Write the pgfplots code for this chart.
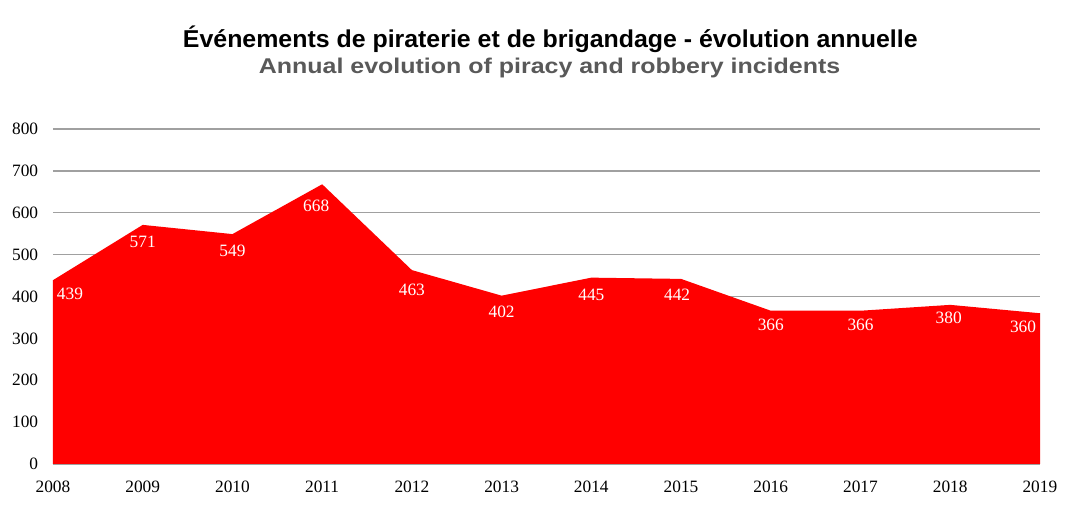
\documentclass[border=0pt]{standalone}
\usepackage{pgfplots}
\usepackage{pgfplotstable}
\pgfplotsset{compat=1.18}
\usepackage{fontspec}
\setmainfont{Liberation Serif}
\newfontfamily\titlefont{Liberation Sans}
\definecolor{gridgray}{HTML}{A0A0A0}
\definecolor{subgray}{HTML}{595959}
\pgfplotstableread{
year val dx dy
2008 439 12.75 -10.5
2009 571 0 -12.5
2010 549 0 -12.7
2011 668 -4.5 -16.3
2012 463 0 -15
2013 402 0 -11.9
2014 445 0 -12.75
2015 442 -3 -11.85
2016 366 0 -10.7
2017 366 0 -10.7
2018 380 -1.2 -9.8
2019 360 -12.75 -10.5
}\datatable
\begin{document}
\begin{tikzpicture}
\path[use as bounding box] (-39.75pt,-49.5pt) rectangle (767.25pt,348pt);
\begin{axis}[
  at={(0pt,0pt)}, anchor=origin,
  scale only axis,
  width=740.25pt, height=251.25pt,
  xmin=2008, xmax=2019, ymin=0, ymax=800,
  xtick={2008,...,2019}, ytick={0,100,...,800},
  /pgf/number format/assume math mode=true,
  x tick label style={/pgf/number format/1000 sep={}, yshift=-7pt},
  y tick label style={xshift=-5.5pt},
  tick label style={font=\fontsize{13}{15}\selectfont},
  ymajorgrids,
  major grid style={gridgray, line width=1pt},
  axis x line=bottom, axis y line=left,
  y axis line style={draw=none},
  x axis line style={gridgray, line width=1pt, -},
  major tick style={draw=none},
  clip=false,
]
\addplot[fill=red, draw=none] table[x=year, y=val] {\datatable} \closedcycle;
\addplot[draw=none, mark=none,
  nodes near coords,
  visualization depends on={\thisrow{dx} \as \dx},
  visualization depends on={\thisrow{dy} \as \dy},
  nodes near coords style={anchor=center, text=white, font=\fontsize{13}{15}\selectfont, xshift=\dx pt, yshift=\dy pt, inner sep=0pt},
] table[x=year, y=val] {\datatable};
\end{axis}
\node[anchor=base, inner sep=0pt, text=black] at (373pt,312.5pt) {\resizebox{551pt}{16.2pt}{\titlefont\bfseries Événements de piraterie et de brigandage - évolution annuelle}};
\node[anchor=base, inner sep=0pt, text=subgray] at (372.4pt,293pt) {\resizebox{436pt}{11.6pt}{\titlefont\bfseries Annual evolution of piracy and robbery incidents}};
\end{tikzpicture}
\end{document}
